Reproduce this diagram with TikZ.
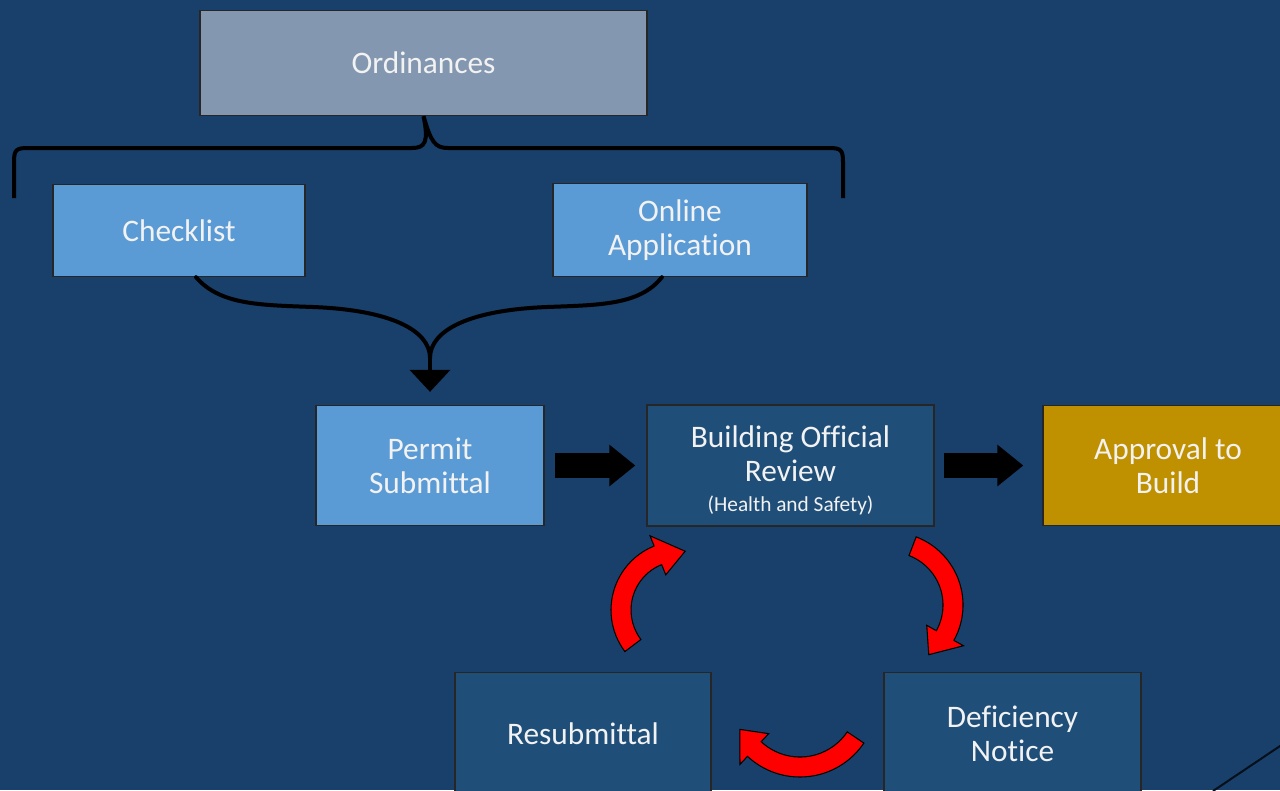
\documentclass[tikz,border=0pt]{standalone}
\usepackage{fontspec}
\setmainfont{Carlito}[Ligatures=NoCommon]
\usepackage{xcolor}
\usetikzlibrary{arrows.meta}

\newdimen\px \px=0.75pt
\definecolor{slidebg}{HTML}{193F6B}
\definecolor{ordgray}{HTML}{8497B0}
\definecolor{lightblue}{HTML}{5B9BD5}
\definecolor{darkblue}{HTML}{1F4E79}
\definecolor{gold}{HTML}{BF9000}
\definecolor{textwhite}{HTML}{F2F2F2}

% center, start angle, end angle, radius, tip angle
\newcommand{\bendarrow}[5]{%
\filldraw[bendfill, shift={(#1)}] (#2:#4+10) arc[start angle=#2, end angle=#3, radius=#4+10] -- (#3:#4+21) -- (#5:#4) -- (#3:#4-21) -- (#3:#4-10) arc[start angle=#3, end angle=#2, radius=#4-10] -- cycle ;}

\begin{document}
\begin{tikzpicture}[x=0.75pt,y=0.75pt,yscale=-1,xscale=1,
  box/.style={draw=black!85, line width=1pt, text=textwhite, align=center, inner sep=0pt, font=\fontsize{23.5pt}{25.5pt}\selectfont},
  blockarrow/.style={line width=18.75pt, -{Triangle[length=19.5pt,width=30pt]}},
  curvelink/.style={line width=3pt, line cap=round},
  bendfill/.style={fill=red, draw=black, line width=0.8pt}]

\useasboundingbox (0,0) rectangle (1280,790);
\fill[slidebg] (0,0) rectangle (1280,790);
\clip (0,0) rectangle (1280,790);

\node[box, fill=ordgray, minimum width=447\px, minimum height=105\px] (ordinances) at (423.5,63) {Ordinances};

\node[box, fill=lightblue, minimum width=252\px, minimum height=92\px] (checklist) at (179,230.5) {Checklist};

\node[box, fill=lightblue, minimum width=254\px, minimum height=93\px] (online) at (680,230) {Online\\Application};

\node[box, fill=lightblue, minimum width=228\px, minimum height=120\px] (permit) at (430,465.5) {Permit\\Submittal};

\node[box, fill=darkblue, minimum width=287\px, minimum height=121\px] (review) at (790.5,465.5) {\rule{0pt}{24pt}Building Official\\Review\\[-3pt]{\fontsize{16pt}{19pt}\selectfont (Health and Safety)}};

\node[box, fill=gold, minimum width=250\px, minimum height=120\px] (approval) at (1168,465.5) {Approval to\\Build};

\node[box, fill=darkblue, minimum width=256\px, minimum height=122\px] (resubmittal) at (583,733.5) {Resubmittal};

\node[box, fill=darkblue, minimum width=257\px, minimum height=122\px] (deficiency) at (1012.5,733.5) {Deficiency\\Notice};

% brace under the ordinances
\draw[curvelink, line cap=butt] (14,198) -- (14,162) .. controls (14,150) and (16,148) .. (28,148) -- (412,148) .. controls (425,148) and (429,142) .. (ordinances.south) .. controls (431,142) and (435,148) .. (448,148) -- (829,148) .. controls (841,148) and (843,150) .. (843,162) -- (843,198) ;

\coordinate (merge) at (430,358);

\draw[curvelink] (checklist.-70) .. controls (220,305) and (260,305) .. (313,307) .. controls (390,310) and (430,330) .. (merge) ;
\draw[curvelink] (online.-111) .. controls (640,305) and (600,305) .. (547,307) .. controls (470,310) and (430,330) .. (merge) ;
\draw[line width=3pt, -{Triangle[length=16.5pt,width=30pt]}, shorten >=9.75pt] (merge) -- (permit.north) ;

\draw[blockarrow, shorten <=7.5pt, shorten >=8.25pt] (permit.east) -- (review.west) ;
\draw[blockarrow, shorten <=6.75pt, shorten >=14.25pt] (review.east) -- (approval.west) ;

\bendarrow{680,610}{143}{248}{59}{275}
\bendarrow{890,605}{-69}{29}{63}{52}
\bendarrow{800,700}{34}{133}{67}{154}

\draw[color=black!75!slidebg, line width=1.5pt] (1213,791) -- (1283,744) ;
\end{tikzpicture}
\end{document}
